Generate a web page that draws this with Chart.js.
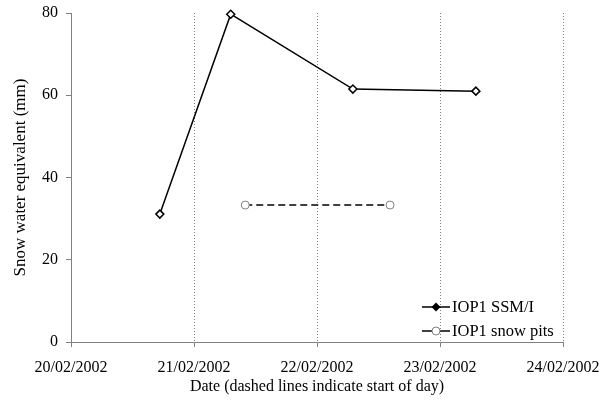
<!DOCTYPE html>
<html>
<head>
<meta charset="utf-8">
<script src="https://cdn.jsdelivr.net/npm/chart.js@4/dist/chart.umd.min.js"></script>
<style>
  html, body { margin: 0; padding: 0; background: #fff; }
  #wrap { width: 602px; height: 403px; }
</style>
</head>
<body>
<div id="wrap"><canvas id="swe"></canvas></div>
<script>
// x tick labels (start of each day)
const dayLabels = ['20/02/2002', '21/02/2002', '22/02/2002', '23/02/2002', '24/02/2002'];
const startDay = '2002-02-20T00:00Z';

// IOP1 SSM/I retrievals
const ssmiTimes = ['2002-02-20T17:20Z', '2002-02-21T07:10Z', '2002-02-22T07:00Z', '2002-02-23T07:00Z'];
const ssmiSwe = [31.1, 79.7, 61.5, 61.0];

// IOP1 snow pits
const pitTimes = ['2002-02-21T10:00Z', '2002-02-22T14:15Z'];
const pitSwe = [33.3, 33.3];

const yTicks = [0, 20, 40, 60, 80];

const t0 = Date.parse(startDay);
const toDays = t => (Date.parse(t) - t0) / 864e5;
const pts = (times, vals) => times.map((t, i) => ({ x: toDays(t), y: vals[i] }));

const serif = '"Liberation Serif", "Times New Roman", serif';
const grey = '#808080';

// legend drawn inside the plot, bottom right
const innerLegend = {
  id: 'innerLegend',
  afterDraw(chart) {
    const ctx = chart.ctx;
    const rows = [307, 331];
    chart.data.datasets.forEach((ds, i) => {
      const y = rows[i], x0 = 422, x1 = 450, mx = (x0 + x1) / 2;
      ctx.save();
      ctx.strokeStyle = '#000';
      ctx.lineWidth = 1.5;
      ctx.beginPath();
      ctx.moveTo(x0, y);
      ctx.lineTo(x1, y);
      ctx.stroke();
      if (i === 0) {
        ctx.fillStyle = '#000';
        ctx.beginPath();
        ctx.moveTo(mx, y - 4.5); ctx.lineTo(mx + 4.5, y);
        ctx.lineTo(mx, y + 4.5); ctx.lineTo(mx - 4.5, y);
        ctx.closePath();
        ctx.fill();
      } else {
        ctx.fillStyle = '#fff';
        ctx.strokeStyle = grey;
        ctx.lineWidth = 1;
        ctx.beginPath();
        ctx.arc(mx, y, 4, 0, Math.PI * 2);
        ctx.fill();
        ctx.stroke();
      }
      ctx.fillStyle = '#000';
      ctx.font = '16.5px ' + serif;
      ctx.textBaseline = 'middle';
      ctx.fillText(ds.label, 452, y + 1);
      ctx.restore();
    });
  }
};

new Chart(document.getElementById('swe'), {
  type: 'scatter',
  data: {
    datasets: [
      {
        label: 'IOP1 SSM/I',
        data: pts(ssmiTimes, ssmiSwe),
        showLine: true,
        clip: false,
        borderColor: '#000',
        borderWidth: 1.5,
        pointStyle: 'rectRot',
        pointRadius: 4,
        pointBorderWidth: 1.5,
        pointBorderColor: '#000',
        pointBackgroundColor: '#fff',
      },
      {
        label: 'IOP1 snow pits',
        data: pts(pitTimes, pitSwe),
        showLine: true,
        clip: false,
        borderColor: '#000',
        borderWidth: 1.5,
        borderDash: [7, 4],
        pointStyle: 'circle',
        pointRadius: 4,
        pointBorderWidth: 1,
        pointBorderColor: grey,
        pointBackgroundColor: '#fff',
      }
    ]
  },
  options: {
    responsive: true,
    maintainAspectRatio: false,
    animation: false,
    layout: { padding: { top: 13, right: 39, left: 0, bottom: 0 } },
    plugins: { legend: { display: false }, tooltip: { enabled: false } },
    scales: {
      x: {
        type: 'linear',
        min: 0,
        max: dayLabels.length - 1,
        afterBuildTicks: s => { s.ticks = dayLabels.map((_, i) => ({ value: i })); },
        afterFit: s => { s.height = 61; s.paddingLeft = 0; s.paddingRight = 0; },
        ticks: {
          color: '#000',
          font: { family: serif, size: 16 },
          padding: 11,
          maxRotation: 0,
          callback: v => dayLabels[v]
        },
        grid: {
          color: c => c.index === 0 ? 'rgba(0,0,0,0)' : grey,
          tickColor: grey,
          lineWidth: 1,
          tickBorderDash: [],
          tickLength: 5
        },
        border: { color: grey, width: 1, dash: [1, 2] },
        title: {
          display: true,
          text: 'Date (dashed lines indicate start of day)',
          color: '#000',
          font: { family: serif, size: 16 },
          padding: { top: 0, bottom: 7 }
        }
      },
      y: {
        min: 0,
        max: 80,
        afterBuildTicks: s => { s.ticks = yTicks.map(v => ({ value: v })); },
        afterFit: s => { s.width = 71; s.paddingTop = 0; s.paddingBottom = 0; },
        ticks: {
          color: '#000',
          font: { family: serif, size: 16 },
          padding: 8
        },
        grid: {
          drawOnChartArea: false,
          tickColor: grey,
          tickLength: 5
        },
        border: { color: grey, width: 1 },
        title: {
          display: true,
          text: 'Snow water equivalent (mm)',
          color: '#000',
          font: { family: serif, size: 17 },
          padding: { top: 10, bottom: 0 }
        }
      }
    }
  },
  plugins: [innerLegend]
});
</script>
</body>
</html>
